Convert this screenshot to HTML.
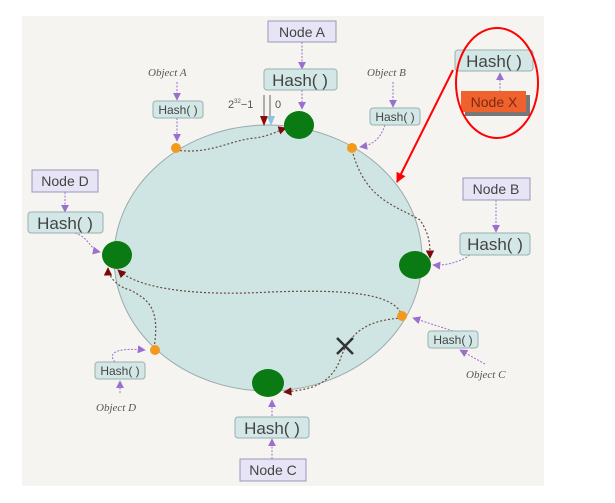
<!DOCTYPE html>
<html><head><meta charset="utf-8"><style>
html,body{margin:0;padding:0;background:#fff;}
svg{display:block;}
text{font-family:"Liberation Sans",sans-serif;}
.it{font-family:"Liberation Serif",serif;font-style:italic;fill:#555;font-size:11px;}
</style></head><body>
<svg width="615" height="503" viewBox="0 0 615 503" xmlns="http://www.w3.org/2000/svg">
<defs>
<marker id="pa" viewBox="0 0 10 10" refX="9" refY="5" markerWidth="8" markerHeight="8" orient="auto"><path d="M0,0 L10,5 L0,10 z" fill="#9a6fd0"/></marker>
<marker id="ra" viewBox="0 0 10 10" refX="9" refY="5" markerWidth="7" markerHeight="7" orient="auto"><path d="M0,0 L10,5 L0,10 z" fill="#7a0a0a"/></marker>
<marker id="rr" viewBox="0 0 10 10" refX="9" refY="5" markerWidth="5" markerHeight="5" orient="auto"><path d="M0,0 L10,5 L0,10 z" fill="#f00"/></marker>
</defs>
<rect x="22" y="16" width="522" height="470" fill="#f5f4f0"/>
<ellipse cx="268" cy="258" rx="154" ry="133" fill="#cfe5e3" stroke="#9aa" stroke-width="1"/>
<!-- dotted paths -->
<g fill="none" stroke="#6a4a40" stroke-width="1.2" stroke-dasharray="2,2">
<path d="M176,150 C210,155 230,140 255,138 C270,136 280,130 286,128" marker-end="url(#ra)"/>
<path d="M352,150 C365,200 395,205 420,220 C430,235 430,245 430,258" marker-end="url(#ra)"/>
<path d="M402,316 C395,290 330,290 270,292 C200,296 140,290 118,270" marker-end="url(#ra)"/>
<path d="M154,348 C160,310 150,300 130,290 C112,285 108,272 108,268" marker-end="url(#ra)"/>
<path d="M402,318 C370,320 350,330 340,360 C330,385 310,390 284,392" marker-end="url(#ra)"/>
</g>
<!-- 2^32 markers -->
<line x1="264" y1="95" x2="264" y2="117" stroke="#666"/>
<line x1="270" y1="95" x2="270" y2="117" stroke="#666"/>
<path d="M260,116 L268,116 L264,126 z" fill="#8b0a0a"/>
<path d="M267,116 L275,116 L271,126 z" fill="#8cc4e8"/>
<text x="228" y="108" font-family="Liberation Serif" font-size="11" fill="#555">2<tspan font-size="6" dy="-5">32</tspan><tspan dy="5">−1</tspan></text>
<text x="275" y="108" font-family="Liberation Serif" font-size="11" fill="#555">0</text>
<!-- purple connectors -->
<g stroke="#9a6fd0" stroke-width="1" stroke-dasharray="2,1.5" fill="none">
<line x1="302" y1="42" x2="302" y2="69" marker-end="url(#pa)"/>
<line x1="302" y1="90" x2="302" y2="109" marker-end="url(#pa)"/>
<line x1="177" y1="82" x2="177" y2="100" marker-end="url(#pa)"/>
<line x1="177" y1="118" x2="177" y2="141" marker-end="url(#pa)"/>
<line x1="393" y1="82" x2="393" y2="107" marker-end="url(#pa)"/>
<path d="M385,125 C380,140 372,145 360,147" marker-end="url(#pa)"/>
<line x1="65" y1="192" x2="65" y2="212" marker-end="url(#pa)"/>
<path d="M75,233 C90,238 90,250 100,252" marker-end="url(#pa)"/>
<line x1="496" y1="200" x2="496" y2="232" marker-end="url(#pa)"/>
<path d="M470,255 C460,262 445,266 433,265" marker-end="url(#pa)"/>
<line x1="453" y1="331" x2="413" y2="318" marker-end="url(#pa)"/>
<line x1="485" y1="364" x2="460" y2="350" marker-end="url(#pa)"/>
<line x1="120" y1="393" x2="120" y2="381" marker-end="url(#pa)"/>
<path d="M115,362 C105,350 125,348 145,350" marker-end="url(#pa)"/>
<line x1="272" y1="416" x2="272" y2="400" marker-end="url(#pa)"/>
<line x1="272" y1="459" x2="272" y2="439" marker-end="url(#pa)"/>
<line x1="500" y1="92" x2="500" y2="73" marker-end="url(#pa)"/>
</g>
<!-- green nodes -->
<g fill="#0a7a12">
<ellipse cx="299" cy="125" rx="15" ry="14"/>
<ellipse cx="117" cy="255" rx="15" ry="14"/>
<ellipse cx="415" cy="265" rx="16" ry="14"/>
<ellipse cx="268" cy="383" rx="16" ry="14"/>
</g>
<g fill="#f39a1e">
<circle cx="176" cy="148" r="5"/><circle cx="352" cy="148" r="5"/>
<circle cx="402" cy="316" r="5"/><circle cx="155" cy="350" r="5"/>
</g>
<!-- X -->
<path d="M337,338 L353,354 M353,338 L337,354" stroke="#333" stroke-width="2.5"/>
<!-- node boxes -->
<g fill="#e6e4f5" stroke="#9a98b8">
<rect x="268" y="21" width="68" height="21"/>
<rect x="32" y="170" width="66" height="22"/>
<rect x="463" y="178" width="67" height="22"/>
<rect x="240" y="459" width="66" height="22"/>
</g>
<g font-size="14" fill="#444" text-anchor="middle">
<text x="302" y="37">Node A</text>
<text x="65" y="186">Node D</text>
<text x="496" y="194">Node B</text>
<text x="273" y="475">Node C</text>
</g>
<!-- hash boxes -->
<g fill="#d3e8e6" stroke="#98b0ae">
<rect x="264" y="69" width="73" height="21" rx="3"/>
<rect x="28" y="212" width="75" height="21" rx="3"/>
<rect x="460" y="233" width="70" height="22" rx="3"/>
<rect x="235" y="417" width="74" height="21" rx="3"/>
<rect x="455" y="50" width="78" height="21" rx="3"/>
<rect x="153" y="101" width="50" height="17" rx="3"/>
<rect x="370" y="108" width="50" height="17" rx="3"/>
<rect x="428" y="331" width="50" height="17" rx="3"/>
<rect x="95" y="362" width="50" height="17" rx="3"/>
</g>
<g font-size="17" fill="#444" text-anchor="middle">
<text x="300" y="86">Hash( )</text>
<text x="65" y="229">Hash( )</text>
<text x="495" y="250">Hash( )</text>
<text x="272" y="434">Hash( )</text>
<text x="494" y="67">Hash( )</text>
</g>
<g font-size="12" fill="#444" text-anchor="middle">
<text x="178" y="114">Hash( )</text>
<text x="395" y="121">Hash( )</text>
<text x="453" y="344">Hash( )</text>
<text x="120" y="375">Hash( )</text>
</g>
<text class="it" x="148" y="76">Object A</text>
<text class="it" x="367" y="76">Object B</text>
<text class="it" x="466" y="378">Object C</text>
<text class="it" x="96" y="411">Object D</text>
<!-- Node X -->
<rect x="465" y="95" width="65" height="21" fill="#777"/>
<rect x="461" y="91" width="65" height="21" fill="#f0622d"/>
<text x="494" y="107" font-size="14" fill="#7a2a10" text-anchor="middle">Node X</text>
<ellipse cx="497" cy="83" rx="41" ry="55" fill="none" stroke="#f00" stroke-width="2"/>
<line x1="453" y1="70" x2="397" y2="182" stroke="#f00" stroke-width="2" marker-end="url(#rr)"/>
</svg>
</body></html>
